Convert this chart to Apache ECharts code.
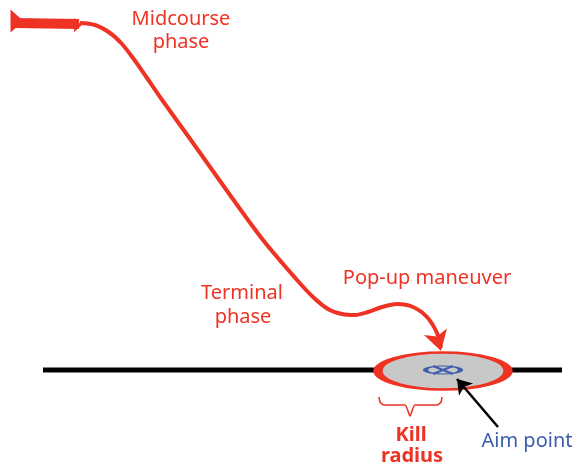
<!DOCTYPE html>
<html>
<head>
  <meta charset="UTF-8">
  <title>Pop-up trajectory</title>
  <style>
    html, body { margin: 0; padding: 0; background: #fff; }
    #chart { width: 583px; height: 469px; }
  </style>
</head>
<body>
  <div id="chart"></div>
  <script src="https://cdn.jsdelivr.net/npm/echarts@6/dist/echarts.min.js"></script>
  <script>
    // diagram drawn on a pixel-like value grid (x 0..583, y 0..469 downwards)
    const trajectory = [
      [80, 23], [95, 25], [110, 33], [122, 44], [133, 58], [145, 75], [160, 97],
      [193, 143], [230, 195], [263, 240], [297, 280], [313, 297], [328, 309],
      [342, 314], [355, 315], [368, 312], [382, 307], [397, 304], [413, 307],
      [427, 317], [437, 333], [441, 348]
    ];
    const tail = [[14, 23], [79, 24]];
    const ground = [[43, 370], [562, 370]];
    const killZone = [[443, 371]];
    const aimPoint = [[443, 370]];
    const aimCross = [[[433, 366], [453, 374]], [[433, 374], [453, 366]]];
    const bracket = [[379, 397], [380, 402], [384, 405], [405, 405], [410, 416], [415, 405], [437, 405], [441, 402], [442, 397]];
    const pointer = [[498, 427], [457, 379]];

    const RED = '#ee3324';
    const BLUE = '#3b5dab';

    const chart = echarts.init(document.getElementById('chart'));

    const txt = (text, x, y, opts) => ({
      type: 'text', x: x, y: y, z: 10,
      style: Object.assign({
        text: text, fill: RED, font: '20px "Noto Sans"',
        align: 'center', verticalAlign: 'middle'
      }, opts || {})
    });

    const option = {
      animation: false,
      grid: { left: 0, right: 0, top: 0, bottom: 0 },
      xAxis: { type: 'value', min: 0, max: 583, show: false },
      yAxis: { type: 'value', min: 0, max: 469, inverse: true, show: false },
      series: [
        {
          type: 'line', data: ground, symbol: 'none', z: 1,
          lineStyle: { color: '#000', width: 5 }
        },
        {
          type: 'scatter', data: killZone, symbol: 'circle', symbolSize: [130, 37], z: 3,
          itemStyle: { color: '#c8c8c8', borderColor: RED, borderWidth: 5, opacity: 1 }
        },
        {
          type: 'scatter', data: aimPoint, symbol: 'circle', symbolSize: [35, 8], z: 4,
          itemStyle: { color: 'rgba(0,0,0,0)', borderColor: BLUE, borderWidth: 2.5, opacity: 1 }
        },
        ...aimCross.map(seg => ({
          type: 'line', data: seg, symbol: 'none', z: 4,
          lineStyle: { color: BLUE, width: 2 }
        })),
        {
          type: 'line', data: tail, symbol: 'none', z: 5,
          lineStyle: { color: RED, width: 10 }
        },
        {
          type: 'scatter', data: [tail[0]], symbol: 'triangle', symbolSize: [23, 13], z: 5,
          symbolRotate: -90, symbolOffset: [3, -2], itemStyle: { color: RED, opacity: 1 }
        },
        {
          type: 'scatter', data: [tail[1]], symbol: 'triangle', symbolSize: [14, 8], z: 5,
          symbolRotate: -90, symbolOffset: [-1, 1], itemStyle: { color: RED, opacity: 1 }
        },
        {
          type: 'line', data: trajectory, symbol: 'none', smooth: 0.3, z: 5,
          lineStyle: { color: RED, width: 4 }
        },
        {
          type: 'scatter', data: [trajectory[trajectory.length - 1]], symbol: 'arrow', z: 6,
          symbolSize: [18, 20], symbolRotate: 196, symbolOffset: [0, 3],
          itemStyle: { color: RED, opacity: 1 }
        },
        {
          type: 'line', data: bracket, symbol: 'none', smooth: 0.2, z: 5,
          lineStyle: { color: RED, width: 1.6 }
        },
        {
          type: 'lines', coordinateSystem: 'cartesian2d', z: 8,
          data: [{ coords: pointer }],
          symbol: ['none', 'arrow'], symbolSize: 14,
          lineStyle: { color: '#000', width: 2.5, opacity: 1 }
        }
      ],
      graphic: [
        txt('Midcourse', 181, 19),
        txt('phase', 181, 42),
        txt('Terminal', 242, 293),
        txt('phase', 243, 317),
        txt('Pop-up maneuver', 427, 278),
        txt('Kill', 411, 435, { font: 'bold 20px "Noto Sans"' }),
        txt('radius', 412, 456, { font: 'bold 20px "Noto Sans"' }),
        txt('Aim point', 527, 441, { fill: BLUE })
      ]
    };
    chart.setOption(option);
  </script>
</body>
</html>
